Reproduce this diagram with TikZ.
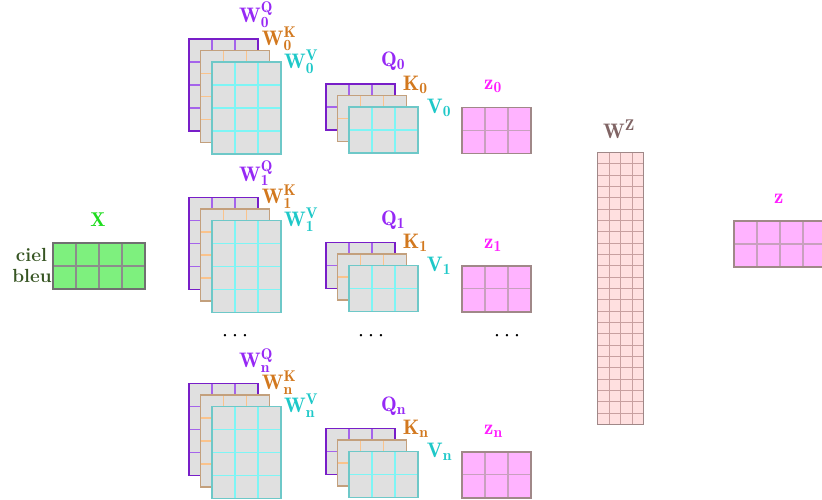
\documentclass[tikz,border=0pt]{standalone}
\usepackage{fontspec}
\DeclareMathSizes{21}{21}{15.5}{12}
\definecolor{qb}{RGB}{120,30,200}
\definecolor{qg}{RGB}{165,100,235}
\definecolor{kb}{RGB}{195,160,125}
\definecolor{kg}{RGB}{250,195,140}
\definecolor{vb}{RGB}{110,200,200}
\definecolor{vg}{RGB}{125,245,245}
\definecolor{mfill}{RGB}{224,224,224}
\definecolor{ql}{RGB}{150,40,245}
\definecolor{kl}{RGB}{210,120,30}
\definecolor{vl}{RGB}{30,200,200}
\definecolor{zf}{RGB}{255,179,255}
\definecolor{zb}{RGB}{160,136,136}
\definecolor{zg}{RGB}{200,160,190}
\definecolor{zl}{RGB}{255,30,255}
\definecolor{wzf}{RGB}{255,224,224}
\definecolor{wzg}{RGB}{200,160,160}
\definecolor{wzl}{RGB}{128,100,100}
\definecolor{xf}{RGB}{126,240,126}
\definecolor{xb}{RGB}{112,112,112}
\definecolor{xg}{RGB}{140,140,140}
\definecolor{xl}{RGB}{30,220,30}
\definecolor{cb}{RGB}{55,85,35}
\def\glw{1.3pt}
% #1 x, #2 y (top-left), #3 cols, #4 rows, #5 cell w, #6 cell h, #7 fill, #8 grid, #9 border
\newcommand\mymat[9]{%
  \fill[fill=#7] (#1,#2) rectangle ++({#3*#5},{#4*#6});
  \foreach \k in {1,...,#3}{\draw[draw=#8, line width=\glw] ({#1+\k*#5},#2) -- ++(0,{#4*#6});}
  \foreach \k in {1,...,#4}{\draw[draw=#8, line width=\glw] (#1,{#2+\k*#6}) -- ++({#3*#5},0);}
  \draw[draw=#9, line width=1.6pt] (#1,#2) rectangle ++({#3*#5},{#4*#6});
}
\newcommand\mydots{\makebox[0pt]{·}\hspace{10pt}\makebox[0pt]{·}\hspace{10pt}\makebox[0pt]{·}}
\begin{document}
\begin{tikzpicture}[x=1pt,y=-1pt,
  lab/.style={inner sep=0pt, anchor=base west, font=\fontsize{21}{24}\selectfont\bfseries},
  word/.style={inner sep=0pt, anchor=base, text=cb, font=\fontsize{19}{21}\selectfont\bfseries},
  dotsnode/.style={inner sep=0pt, anchor=base, font=\fontsize{17}{20}\selectfont\bfseries}]
\useasboundingbox (0,0) rectangle (822,499);
\clip (0,0) rectangle (822,499);

% input X
\mymat{53}{243}{4}{2}{23}{23}{xf}{xg}{xb}
\node[lab, anchor=base, text=xl, font=\fontsize{20}{22}\selectfont\bfseries] (xlab) at (98,226.7) {$\mathbf{X}$};
\node[word] (ciel) at (31.5,261) {ciel};
\node[word] (bleu) at (32,282) {bleu};

% heads
\foreach \r/\dy in {0/0, 1/158.5, n/344.5}{
  \mymat{189}{39+\dy}{3}{4}{23}{23}{mfill}{qg}{qb}
  \mymat{200.5}{50.5+\dy}{3}{4}{23}{23}{mfill}{kg}{kb}
  \mymat{212}{62+\dy}{3}{4}{23}{23}{mfill}{vg}{vb}
  \node[lab, text=ql] (wq\r) at (239,22.7+\dy) {$\mathbf{W_{\r}^{Q}}$};
  \node[lab, text=kl] (wk\r) at (261.7,45+\dy) {$\mathbf{W_{\r}^{K}}$};
  \node[lab, text=vl] (wv\r) at (284,68+\dy) {$\mathbf{W_{\r}^{V}}$};
  \mymat{326}{84+\dy}{3}{2}{23}{23}{mfill}{qg}{qb}
  \mymat{337.5}{95.5+\dy}{3}{2}{23}{23}{mfill}{kg}{kb}
  \mymat{349}{107+\dy}{3}{2}{23}{23}{mfill}{vg}{vb}
  \node[lab, text=ql] (q\r) at (381,66.5+\dy) {$\mathbf{Q_{\r}}$};
  \node[lab, text=kl] (k\r) at (402.7,90+\dy) {$\mathbf{K_{\r}}$};
  \node[lab, text=vl] (v\r) at (426.7,113+\dy) {$\mathbf{V_{\r}}$};
  \mymat{462}{107.3+\dy}{3}{2}{23}{23}{zf}{zg}{zb}
  \node[lab, text=zl] (z\r) at (484,89.5+\dy) {$\mathbf{z_{\r}}$};
}

% dots
\node[dotsnode] (d1) at (235,341) {\mydots};
\node[dotsnode] (d2) at (371,341) {\mydots};
\node[dotsnode] (d3) at (507,341) {\mydots};

% W^Z
\def\glw{0.8pt}
\mymat{597.5}{152.5}{4}{24}{11.5}{11.33}{wzf}{wzg}{zb}
\def\glw{1.3pt}
\node[lab, text=wzl] (wz) at (603,138) {$\mathbf{W^{Z}}$};

% Z output
\mymat{734}{221}{4}{2}{23}{23}{zf}{zg}{zb}
\node[lab, text=zl] (zout) at (774,203) {$\mathbf{z}$};
\end{tikzpicture}
\end{document}
